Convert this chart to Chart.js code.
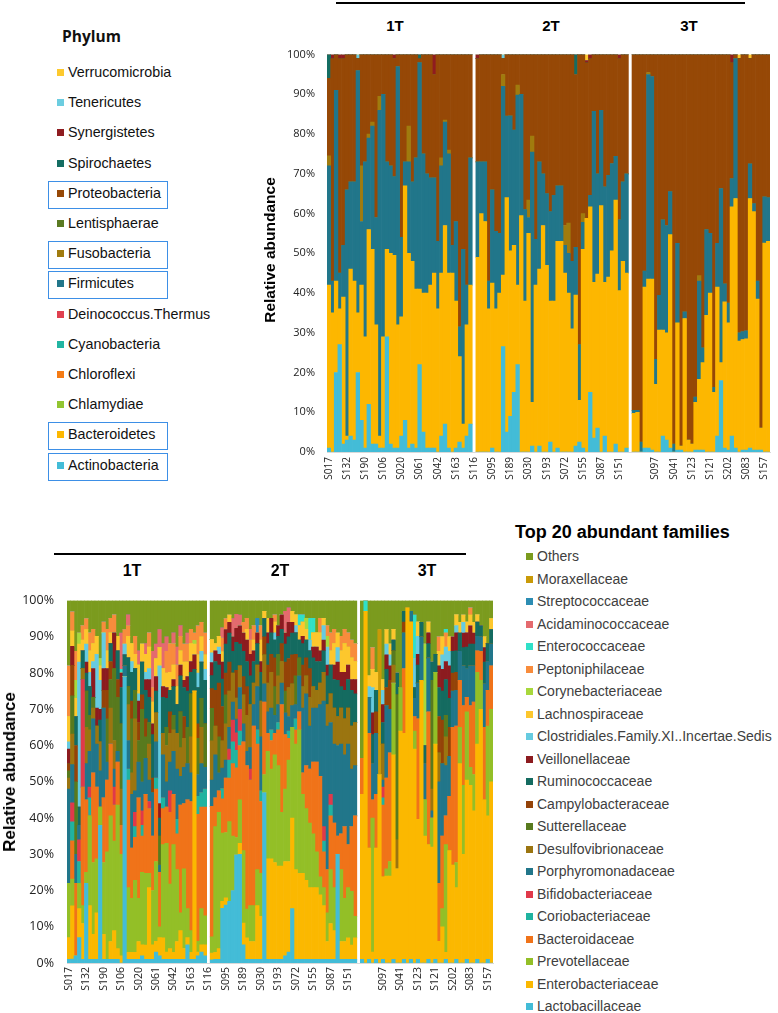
<!DOCTYPE html>
<html><head><meta charset="utf-8">
<script src="https://cdn.jsdelivr.net/npm/chart.js@4.4.0/dist/chart.umd.min.js"></script>
<style>
html,body{margin:0;padding:0;background:#fff;}
body{width:778px;height:1013px;position:relative;overflow:hidden;font-family:'Liberation Sans',Arial,sans-serif;}
canvas{position:absolute;}
.t{position:absolute;white-space:nowrap;}
.sq{position:absolute;width:7px;height:7px;}
.box{position:absolute;border:1.5px solid #3d8fe6;box-sizing:border-box;}
.rule{position:absolute;background:#000;height:2px;}
.grp{position:absolute;font-weight:bold;transform:translate(-50%,-50%);}
.ytitle{position:absolute;font-weight:bold;transform:translate(-50%,-50%) rotate(-90deg);white-space:nowrap;}
</style></head><body>
<canvas id="topChart" width="516" height="452" style="left:262px;top:36px"></canvas>
<canvas id="botChart" width="500" height="419" style="left:0px;top:580px"></canvas>
<div id="ui"></div>
<script>
// ---------- shared categories ----------
const groupNames = ['1T','2T','3T'];
const groupSizes = [40, 42, 38];
const tickNames = ['S017','S132','S190','S106','S020','S061','S042','S163','S116','S095','S189','S030','S193','S072','S155','S087','S151','','S097','S041','S123','S121','S202','S083','S157'];
const tickStep = 5;
const yTicks = [0,10,20,30,40,50,60,70,80,90,100];

// ---------- phylum chart (stack order bottom -> top) ----------
const phylumNames = ['Actinobacteria','Bacteroidetes','Chlamydiae','Chloroflexi','Cyanobacteria','Deinococcus.Thermus','Firmicutes','Fusobacteria','Lentisphaerae','Proteobacteria','Spirochaetes','Synergistetes','Tenericutes','Verrucomicrobia'];
const phylumColors = ['#43bcd7','#fdb700','#92c531','#f57b14','#22b5a2','#e0404f','#21768a','#a07b0e','#5a7a22','#964806','#146d62','#8f1c20','#6ccde0','#fdc92e'];
const phylumBoxed = ['Proteobacteria','Fusobacteria','Firmicutes','Bacteroidetes','Actinobacteria'];

const actinobacteria = [
 [1,0,20,27,2,3,4,3,20,8, 1,12,2,2,1,1,29,2,1,1, 4,8,1,2,1,22,5,1,1,1, 0,4,7,1,0,1,2.5,1,4,7],
 [0,0,0,0,1,0,0,26.5,5,9, 15,22,0,0,0,1.5,0,1.5,0,0, 2.5,0,1,0,0,0,0,1.5,2.5,1, 0,15,3.5,6,0,4,0,0,2,0, 0,1],
 [0,0,0,1,1,0.5,0,0,4,3, 1,0,0.5,0.5,0,0,0,0.5,0.5,0.5, 0,0,0,4,18,1,0.5,4,1,0, 0.5,0.5,1,0.5,0.5,0.5,0,0]];
const bacteroidetes = [
 [41,35,23,9,37,1,42,40,15,34, 28,44,49,30,3,28,22,48,49,31, 30,59,49,46,40,19,35,39,41,44, 36,41,50,44,45,37,21.5,6,28,35],
 [49,60,58,36,41.5,36,40,18,59,41.6, 37,20,59.5,38,55,11,42,44.5,57,47, 35.5,38,52,53,45,40,31,38,10.5,50, 57.6,46.7,39.2,38.8,62,38.7,44,50.6,61.4,40.6, 48,44],
 [9.7,10,0,40.5,42.5,43,17,30.7,26.7,27, 53.7,0,32,1,33.6,3,2,12,17.8,22, 34.4,40,15,37.5,4.5,36.8,32,57.7,62.8,27.9, 27.8,28,62.8,60,38,5.5,52.6,53]];
const firmicutes = [
 [30,8,48,9,13,62,22,25,61,16, 44,23,31,27,82,61,22,22,20,65, 20,6,23,20,33,57,35,30,27,24, 17,27,26,30,7,20,7.5,44,10,32],
 [24,13,15,7,23.5,19.5,15,47.5,20.5,34, 29,47.8,30.5,23,4,63,11.5,27,13,18, 22.5,26.6,14,14,7,10,17,12,14,6.8, 0,2.9,43,25.2,24,24,25.6,22,11,17.8, 20,25],
 [0.8,0.5,2.5,4,51.5,51,6.3,8.7,27.7,27, 10.8,2,20,0,1.7,0,0,1.3,24.7,3.7, 21.6,15,1.3,11,43.8,4.5,5,7.1,35.2,2.1, 2,2,8.7,2,4.5,0,11.6,11]];
const fusobacteria = [
 [2.5,0,0,0,0,0,0,0,0,14, 0,1,1,0,3.5,0,0,0,0,0, 0,0,9,0,0,0,0,0,0,0, 0,2,0.5,1,0,0,0,0,0,0],
 [0,0,0,0,0,0,0,3,0,0, 0,2.5,0,0,4.4,4,0,0,0,0, 0,0,0,0,5,7.6,0,0,0,2.2, 0,0,0,0,0,0,0,0,0,0, 0,0],
 [0,0,0,0,0.5,0,0,0,0,0, 0,0,0,0,0,0,0,0,1.4,0, 0,0,0,0,0,0,0,0,0,0, 0,0,0,0,0,0,0,0]];
const proteobacteria = [
 [19.5,56,9,54,47,34,32,32,3,28, 27,20,17,41,10.5,10,27,28,30,3, 46,27,18,32,26,1,25,30,31,26, 47,26,16.5,24,48,42,68.5,49,58,26],
 [26,27,27,57,34,44.5,45,4,15.5,15.4, 19,7.7,10,39,36.6,20.5,46.5,27,30,35, 39.5,35.4,33,33,43,42.4,52,43.5,73,40, 38.4,34.4,14.3,30,14,33.3,30.4,27.4,25.6,40.6, 32,30],
 [89.5,89.5,97.5,54.5,4.5,5.5,76.7,60.6,41.6,43, 34.5,98,47.5,98.5,64.7,97,98,86.2,55.6,73.8, 44,45,83.7,47.5,33.7,57.7,62.5,29.2,1,69, 69.7,69.5,26.5,37.5,57,94,35.8,36]];
const spirochaetes = [
 [6,0,0,0,0,0,0,0,0,0, 0,0,0,0,0,0,0,0,0,0, 0,0,0,0,0,1,0,0,0,0, 0,0,0,0,0,0,0,0,0,0],
 [0,0,0,0,0,0,0,0,0,0, 0,0,0,0,0,0,0,0,0,0, 0,0,0,0,0,0,0,5,0,0, 0,0,0,0,0,0,0,0,0,0, 0,0],
 [0,0,0,0,0,0,0,0,0,0, 0,0,0,0,0,0,0,0,0,0, 0,0,0,0,0,0,0,0,0,0, 0,0,0,0,0,0,0,0]];
const synergistetes = [
 [0,1,0,1,1,0,0,0,0,0, 0,0,0,0,0,0,0,0,1,0, 0,0,0,0,0,0,0,0,0,5, 0,0,0,0,0,0,0,0,0,0],
 [1,0,0,0,0,0,0,0,0,0, 0,0,0,0,0,0,0,0,0,0, 0,0,0,0,0,0,0,0,0,0, 0.5,1,0,0,0,0,0,0,0,1, 0,0],
 [0,0,0,0,0,0,0,0,0,0, 0,0,0,0,0,0,0,0,0,0, 0,0,0,0,0,0,0,2,0,0, 0,0,0,0,0,0,0,0]];
const tenericutes = [
 [0,0,0,0,0,0,0,0,1,0, 0,0,0,0,0,0,0,0,0,0, 0,0,0,0,0,0,0,0,0,0, 0,0,0,0,0,0,0,0,0,0],
 [0,0,0,0,0,0,0,1,0,0, 0,0,0,0,0,0,0,0,0,0, 0,0,0,0,0,0,0,0,0,0, 0,0,0,0,0,0,0,0,0,0, 0,0],
 [0,0,0,0,0,0,0,0,0,0, 0,0,0,0,0,0,0,0,0,0, 0,0,0,0,0,0,0,0,0,0, 0,0,0,0,0,0,0,0]];
const verrucomicrobia = [
 [0,0,0,0,0,0,0,0,0,0, 0,0,0,0,0,0,0,0,0,0, 0,0,0,0,0,0,0,0,0,0, 0,0,0,0,0,0,0,0,0,0],
 [0,0,0,0,0,0,0,0,0,0, 0,0,0,0,0,0,0,0,0,0, 0,0,0,0,0,0,0,0,0,0, 1.5,0,0,0,0,0,0,0,0,0, 0,0],
 [0,0,0,0,0,0,0,0,0,0, 0,0,0,0,0,0,0,0,0,0, 0,0,0,0,0,0,0,0,0,1, 0,0,1,0,0,0,0,0]];

// ---------- family chart (stack order bottom -> top) ----------
const familyNames = ['Lactobacillaceae','Enterobacteriaceae','Prevotellaceae','Bacteroidaceae','Coriobacteriaceae','Bifidobacteriaceae','Porphyromonadaceae','Desulfovibrionaceae','Sutterellaceae','Campylobacteraceae','Ruminococcaceae','Veillonellaceae','Clostridiales.Family.XI..Incertae.Sedis','Lachnospiraceae','Corynebacteriaceae','Peptoniphilaceae','Enterococcaceae','Acidaminococcaceae','Streptococcaceae','Moraxellaceae','Others'];
const familyColors = ['#43bcd7','#fbb800','#93bf27','#f07319','#20b3a0','#e0394a','#21768a','#9b7510','#587a1e','#944308','#146b60','#8c1b1f','#66cbe0','#fdc72d','#a8d83c','#f88c3c','#30e0c8','#e46a6e','#2c8db3','#c99a08','#7b9b1e'];

const lactobacillaceae = [
 [1,1,2,7,1,22,1,1,1,38, 1,1,1,1,1,0,79,1,1,1, 1,2,1,1,1,3,2,1,1,1, 1,1,1,1,5,1,1,2,3,2],
 [1,1,1,16,16,17,20,31,30,5, 1,1,1,1,1,47,1,1,1,1, 1,2,3,15,1,1,1,1,1,1, 1,1,1,1,1,1,30,1,1,1, 1,1],
 [1,0,1,0,1,0,1,0,0,1, 0,0,1,0,1,0,1,0,0,1, 0,1,0,0,1,0,0,1,0,0, 1,0,0,1,0,0,1,0]];
const enterobacteriaceae = [
 [6,14,0,8,10,0,15,7,13,0, 7,0,5,8,3,2,0,2,2,2, 5,3,4,20,4,3,5,6,2,3, 2,5,8,3,2,2,74,1,2,3],
 [2,2,3,2,2,0,0,0,3,6, 6,5,5,15,12,0,28,28,27,26, 26,26,25,25,25,24,24,22,20,20, 20,18,15,5,10,8,0,5,5,6, 4,6],
 [46,97,31,3,31,52,23,24,24,57, 26,64,63,98,94,59,39,78,35,32, 32,60,6,10,2,31,27,20,55,30, 50,49,42,60,70,45,40,50]];
const prevotellaceae = [
 [15,7,0,7,5,3,25,20,15,5, 20,30,35,25,40,28,0,18,15,20, 12,20,20,4,15,22,3,26,30,18, 30,20,5,22,8,6,0,3,10,8],
 [5,35,38,20,18,22,15,5,12,20, 8,10,10,10,12,5,30,25,30,28, 15,20,28,25,35,40,22,20,18,15, 10,5,5,8,15,12,0,20,12,14, 15,6],
 [0,0,0,37,0,0,0,2,4,20, 0,12,0,0,0,5,0,0,10,0, 8,20,0,5,30,0,0,7,10,19, 19,5,10,20,8,0,25,20]];
const bacteroidaceae = [
 [0,10,20,0,33,20,0,25,20,0, 18,20,20,10,12,8,0,30,14,12, 28,10,22,18,15,20,15,10,10,20, 14,10,30,18,30,36,0,35,28,30],
 [40,8,6,10,15,12,20,20,15,30, 40,35,50,35,20,20,5,8,6,10, 30,15,6,0,4,5,6,12,15,20, 25,28,10,12,15,18,5,10,20,12, 18,28],
 [10,0,32,5,15,0,20,25,30,0, 0,0,18,0,0,4,28,0,0,37, 0,0,16,20,8,15,38,38,13,22, 4,17,20,6,8,20,10,12]];
const coriobacteriaceae = [
 [0,5,0,6,0,0,5,0,0,0, 0,0,0,0,0,0,0,3,0,3, 0,3,0,0,0,3,0,3,0,0, 0,4,0,0,0,0,0,5,4,5],
 [0,0,0,3,0,5,6,5,4,0, 0,0,0,4,3,0,0,3,0,2, 0,0,2,0,3,0,0,0,0,0, 0,0,3,0,3,0,0,0,0,0, 0,0],
 [0,0,0,0,0,0,2,0,0,0, 0,0,0,0,0,0,0,0,0,0, 0,0,0,0,0,0,0,0,0,0, 0,0,0,0,0,0,0,0]];
const bifidobacteriaceae = [
 [0,5,0,6,30,0,3,0,0,0, 0,0,0,5,0,0,0,0,0,4, 0,4,0,2,0,0,0,0,0,6, 0,0,0,0,0,0,0,0,0,0],
 [0,0,0,0,0,3,6,5,6,0, 0,3,0,0,0,0,0,0,0,0, 0,0,0,0,0,0,0,0,0,0, 0,0,4,0,3,0,0,0,0,0, 0,0],
 [0,0,0,0,0,0,3,0,0,0, 0,0,0,0,0,0,0,0,0,0, 0,0,0,0,0,0,0,0,0,0, 0,0,0,0,0,0,0,0]];
const porphyromonadaceae = [
 [26,10,8,4,0,10,10,15,12,10, 25,5,0,5,3,0,3,8,15,6, 10,8,10,6,12,10,2,12,7,8, 12,14,8,10,10,8,0,6,8,6],
 [8,12,5,6,5,6,5,4,6,5, 4,6,6,12,15,5,6,6,5,5, 6,6,4,6,4,10,18,20,12,15, 15,20,35,40,20,22,25,25,20,28, 16,14],
 [0,0,10,10,17,0,2,20,12,0, 0,0,10,0,3,5,10,12,10,15, 2,0,28,20,14,11,10,10,8,11, 8,11,10,4,4,12,8,6]];
const desulfovibrionaceae = [
 [3,8,0,0,3,10,6,3,5,8, 0,0,10,8,0,10,0,10,6,20, 0,0,0,10,0,8,0,6,10,8, 6,10,8,8,0,10,0,0,10,0],
 [12,8,0,8,10,10,8,6,6,8, 10,12,6,6,10,8,8,10,0,8, 6,0,8,6,0,0,6,5,8,6, 5,6,8,6,8,10,8,10,10,10, 12,12],
 [0,0,0,0,0,0,10,0,0,5, 8,0,0,0,0,0,0,0,0,0, 6,0,8,0,8,0,0,0,0,0, 0,0,0,0,0,0,0,0]];
const sutterellaceae = [
 [2,10,20,0,0,10,4,3,0,0, 0,12,8,20,15,18,0,5,15,8, 6,20,6,6,0,0,8,0,5,0, 4,0,10,0,10,12,0,10,8,12],
 [10,0,10,0,8,0,0,0,0,0, 0,0,0,0,0,0,0,0,8,6, 0,6,0,0,8,5,0,0,0,0, 0,0,0,0,0,0,0,0,0,0, 0,0],
 [0,0,0,0,0,0,0,0,0,4, 40,0,0,0,0,0,0,0,0,0, 30,0,0,0,6,0,0,0,0,0, 0,0,0,0,0,0,0,0]];
const campylobacteraceae = [
 [2,8,10,0,0,0,0,0,0,0, 5,8,5,0,5,0,0,0,5,0, 5,4,5,0,4,0,0,0,0,6, 0,0,0,6,0,0,0,4,0,0],
 [6,10,15,10,6,8,0,8,0,5, 8,0,0,0,0,5,5,5,8,0, 5,8,8,8,6,0,6,5,8,0, 0,0,0,0,0,0,0,0,0,0, 0,0],
 [0,0,0,0,6,0,0,5,8,0, 0,0,3,0,0,0,0,0,0,0, 0,0,10,12,0,8,5,5,0,0, 0,0,0,0,0,0,0,0]];
const ruminococcaceae = [
 [0,0,8,5,5,5,8,0,0,6, 0,0,5,0,8,10,3,8,8,6, 0,9,8,7,12,6,5,10,8,6, 8,8,10,8,10,6,6,10,10,12],
 [4,8,5,8,8,8,6,8,6,7, 7,8,6,6,8,5,6,6,5,5, 4,5,6,6,6,5,6,5,5,8, 8,6,6,8,8,8,10,6,8,8, 10,8],
 [0,0,0,8,6,0,6,5,0,3, 6,0,3,0,0,3,5,4,5,4, 5,5,8,8,10,8,6,6,5,5, 6,6,6,4,3,6,5,4]];
const veillonellaceae = [
 [4,5,0,0,0,3,0,8,5,3, 6,6,0,10,0,4,0,0,0,0, 6,0,3,5,3,4,4,3,3,0, 2,0,3,2,4,3,4,0,0,0],
 [4,3,3,5,4,3,4,4,5,5, 6,6,3,3,3,0,3,4,0,3, 4,3,4,3,0,0,2,0,0,3, 4,3,3,3,0,4,5,4,5,4, 3,4],
 [0,0,0,6,0,0,5,4,4,0, 0,0,0,0,0,0,3,0,0,3, 0,0,6,6,5,9,4,5,0,4, 4,5,3,0,0,4,0,0]];
const clostridialesXI = [
 [2,0,0,40,0,5,4,2,15,8, 10,0,0,0,0,0,3,0,3,0, 2,0,2,3,0,0,38,0,0,0, 0,0,0,0,0,0,0,4,3,3],
 [3,0,2,0,0,0,0,0,0,0, 0,0,0,0,0,0,0,0,2,0, 0,0,0,0,2,0,0,0,3,0, 0,0,4,5,0,0,4,0,0,0, 0,0],
 [0,0,3,7,0,0,4,3,3,0, 0,0,0,0,0,8,5,0,0,0, 0,0,0,4,4,4,0,2,0,3, 0,0,0,0,0,0,0,0]];
const lachnospiraceae = [
 [7,4,5,5,3,4,6,5,5,4, 0,5,3,0,4,0,0,6,5,4, 8,5,5,6,6,5,5,5,4,5, 4,5,4,5,4,5,3,5,4,4],
 [4,2,3,3,0,2,0,0,0,0, 3,0,3,0,6,2,4,0,3,0, 0,0,0,3,3,4,4,3,0,4, 4,5,2,0,4,6,4,6,8,5, 6,5],
 [0,0,3,5,5,0,3,4,3,3, 0,0,0,0,0,0,4,0,0,3, 0,0,4,5,0,4,0,3,3,2, 3,3,3,2,0,3,0,3]];
const corynebacteriaceae = [
 [0,0,5,3,0,0,0,0,0,2, 0,0,0,0,0,0,0,0,0,0, 0,0,0,0,0,0,0,0,0,0, 0,0,0,0,0,0,1,0,0,0],
 [0,0,0,0,0,0,0,0,0,0, 0,0,0,0,0,0,0,0,0,0, 0,0,0,0,0,0,0,3,0,0, 0,0,0,3,0,0,0,0,0,0, 0,0],
 [0,0,0,0,0,0,0,0,0,0, 0,0,0,0,0,0,0,0,28,0, 0,0,0,0,0,0,0,0,0,0, 0,0,0,0,0,0,0,0]];
const peptoniphilaceae = [
 [14,5,8,0,4,3,5,4,0,0, 3,6,4,5,0,0,4,3,0,5, 0,0,0,4,4,0,0,0,6,8, 6,6,4,5,5,4,2,8,4,6],
 [0,0,0,4,3,0,0,0,0,3, 3,4,4,0,4,0,0,0,2,0, 0,0,0,0,0,0,0,0,0,0, 0,4,0,3,5,4,0,4,4,4, 5,5],
 [0,0,0,6,0,0,0,0,0,0, 0,0,0,0,0,0,0,0,0,0, 0,0,4,0,4,0,0,0,0,0, 0,2,0,0,0,0,0,0]];
const enterococcaceae = [
 [0,0,0,0,0,0,0,0,0,0, 0,0,0,0,0,1,0,0,0,0, 0,0,0,0,0,0,0,0,0,0, 0,0,0,0,0,0,0,0,0,0],
 [0,0,0,0,0,0,0,0,0,0, 0,0,0,0,0,0,0,0,0,0, 0,0,0,0,0,3,2,0,6,4, 0,0,0,0,0,0,0,0,0,0, 0,0],
 [0,3,0,0,0,0,0,0,0,0, 0,0,0,0,0,12,0,0,0,0, 0,0,0,0,1,0,0,0,0,0, 0,0,0,0,0,0,0,0]];
const acidaminococcaceae = [
 [0,0,0,0,0,0,0,0,0,0, 0,0,0,0,0,10,0,3,0,0, 4,0,3,0,10,4,5,7,4,0, 3,5,3,0,3,0,0,0,0,0],
 [0,0,0,3,0,0,5,4,3,0, 0,3,0,0,0,0,0,0,0,0, 0,6,4,0,0,0,0,0,0,0, 0,0,0,0,0,0,0,0,0,0, 0,0],
 [0,0,0,0,0,0,0,0,0,0, 0,0,0,0,0,0,0,0,0,0, 0,0,0,0,0,0,0,0,0,0, 0,0,0,0,0,0,0,0]];
const streptococcaceae = [
 [0,0,0,0,0,0,0,0,0,0, 0,0,0,0,0,0,0,0,0,0, 0,0,0,0,0,0,0,0,0,0, 0,0,0,0,0,0,0,0,0,0],
 [0,0,0,0,0,0,0,0,0,0, 0,0,0,4,0,0,0,0,0,0, 0,0,0,0,0,0,0,0,0,0, 0,0,0,0,0,0,0,0,0,0, 0,0],
 [0,0,0,0,0,0,0,0,0,0, 0,0,0,0,0,0,0,0,0,0, 0,0,0,0,0,0,0,0,0,0, 0,0,0,0,0,0,0,0]];
const moraxellaceae = [
 [0,0,0,0,0,0,0,0,0,0, 0,0,0,0,0,0,0,0,0,0, 0,0,0,0,0,0,0,0,0,0, 0,0,0,0,0,0,0,0,0,0],
 [0,0,0,0,0,0,0,0,0,0, 0,0,0,0,0,0,0,0,0,0, 0,0,0,0,0,0,0,0,0,0, 0,0,0,0,0,0,0,0,0,0, 0,0],
 [0,0,0,0,0,40,0,0,0,0, 0,0,0,0,0,0,0,0,0,0, 0,0,0,0,0,0,0,0,0,0, 0,0,0,0,0,0,0,0]];
const others = [
 [18,3,14,9,7,5,9,8,10,16, 6,8,5,4,10,9,8,4,12,10, 14,12,12,9,14,12,8,12,10,12, 9,13,7,12,9,8,9,7,6,9],
 [12,12,10,8,5,4,5,4,4,6, 5,8,7,5,7,3,5,5,4,7, 4,3,2,3,4,4,4,5,5,5, 9,5,5,7,9,8,9,10,8,9, 11,12],
 [44,0,21,13,20,8,22,8,12,8, 20,24,3,2,3,4,6,6,12,6, 17,15,10,10,8,10,10,4,6,4, 6,2,6,4,7,10,12,5]];

// ---------- build ----------
const phylumSeries = {Actinobacteria:actinobacteria, Bacteroidetes:bacteroidetes, Firmicutes:firmicutes, Fusobacteria:fusobacteria, Proteobacteria:proteobacteria, Spirochaetes:spirochaetes, Synergistetes:synergistetes, Tenericutes:tenericutes, Verrucomicrobia:verrucomicrobia};
const familySeries = [lactobacillaceae,enterobacteriaceae,prevotellaceae,bacteroidaceae,coriobacteriaceae,bifidobacteriaceae,porphyromonadaceae,desulfovibrionaceae,sutterellaceae,campylobacteraceae,ruminococcaceae,veillonellaceae,clostridialesXI,lachnospiraceae,corynebacteriaceae,peptoniphilaceae,enterococcaceae,acidaminococcaceae,streptococcaceae,moraxellaceae,others];

function withGaps(panels, name){
  const out = [];
  panels.forEach((p,g)=>{
    if (p.length !== groupSizes[g]) throw new Error(name+' panel '+g+' has '+p.length);
    if (g>0) out.push(null);
    p.forEach(v=>out.push(v));
  });
  return out;
}
const nCats = groupSizes.reduce((a,b)=>a+b,0) + groupSizes.length - 1;
const catLabels = Array.from({length:nCats},(_,i)=> i%tickStep===0 ? (tickNames[i/tickStep]||'') : '');

function buildDatasets(list){
  const filled = list.map(s=>withGaps(s.panels, s.name));
  const totals = catLabels.map((_,i)=>filled.reduce((a,d)=>a+(d[i]||0),0));
  return list.map((s,j)=>({
    label:s.name, backgroundColor:s.color, borderWidth:0,
    barPercentage:1, categoryPercentage:1,
    data: filled[j].map((v,i)=> v==null||totals[i]===0 ? null : v/totals[i]*100)
  }));
}
const phylumList = phylumNames.map((n,i)=>({name:n,color:phylumColors[i],panels:phylumSeries[n]})).filter(s=>s.panels);
const familyList = familyNames.map((n,i)=>({name:n,color:familyColors[i],panels:familySeries[i]}));

Chart.defaults.font.family = "'Open Sans', sans-serif";
function makeOptions(c){
  return {
    responsive:false, animation:false, devicePixelRatio:1,
    layout:{padding:{top:c.padTop,right:c.padRight,left:0,bottom:0}},
    plugins:{legend:{display:false}, tooltip:{enabled:false}},
    scales:{
      x:{stacked:true, grid:{display:false,drawTicks:false}, border:{display:true,color:'#d9d9d9'},
         ticks:{autoSkip:false,maxRotation:90,minRotation:90,padding:c.xPad,font:{size:c.xFont},color:'#222'},
         afterFit(s){ s.height=c.xHeight; s.paddingLeft=0; s.paddingRight=0; }},
      y:{stacked:true, min:0, max:100, grid:{display:false,drawTicks:false}, border:{display:false},
         afterBuildTicks(s){ s.ticks = yTicks.map(v=>({value:v})); },
         ticks:{padding:c.yPad,font:{size:c.yFont},color:'#222',callback:v=>v+'%'},
         afterFit(s){ s.width=c.yWidth; }}
    }
  };
}
new Chart(document.getElementById('topChart'),{type:'bar',
  data:{labels:catLabels, datasets:buildDatasets(phylumList)},
  options:makeOptions({padTop:11,padRight:8,xPad:5,xFont:10,xHeight:36,yPad:12,yFont:11,yWidth:65})});
new Chart(document.getElementById('botChart'),{type:'bar',
  data:{labels:catLabels, datasets:buildDatasets(familyList)},
  options:makeOptions({padTop:11.5,padRight:7,xPad:4,xFont:10.5,xHeight:36,yPad:13,yFont:12.5,yWidth:67})});

// ---------- text overlays ----------
const ui = document.getElementById('ui');
function add(cls, css, text){ const d=document.createElement('div'); d.className=cls; Object.assign(d.style,css); if(text!=null) d.textContent=text; ui.appendChild(d); return d; }
add('rule',{left:'336px',top:'2px',width:'409px'});
[395,551,689].forEach((x,i)=>add('grp',{left:x+'px',top:'25px',fontSize:'15px'},groupNames[i]));
add('ytitle',{left:'270px',top:'250px',fontSize:'15.5px'},'Relative abundance');
add('rule',{left:'54px',top:'553px',width:'412px'});
[132,280,427].forEach((x,i)=>add('grp',{left:x+'px',top:'571px',fontSize:'16px'},groupNames[i]));
add('ytitle',{left:'10px',top:'772px',fontSize:'17px'},'Relative abundance');
// phylum legend
add('t',{left:'62px',top:'25px',fontSize:'15.5px',fontWeight:'bold',fontFamily:"'Open Sans',sans-serif",color:'#111'},'Phylum');
phylumNames.slice().reverse().forEach((n,i)=>{
  const cy = 72.5 + 30.2*i;
  const col = phylumColors[phylumNames.indexOf(n)];
  add('sq',{left:'57px',top:(cy-3.5)+'px',background:col});
  add('t',{left:'68px',top:(cy-8.5)+'px',fontSize:'14.3px',lineHeight:'17px',color:'#111'},n);
  if (phylumBoxed.includes(n)) add('box',{left:'48px',top:(cy-12.5)+'px',width:'120px',height:'28px'});
});
// family legend
add('t',{left:'515px',top:'521px',fontSize:'18px',lineHeight:'22px',fontWeight:'bold',color:'#000'},'Top 20 abundant families');
familyNames.slice().reverse().forEach((n,i)=>{
  const cy = 556.7 + 22.5*i;
  const col = familyColors[familyNames.indexOf(n)];
  add('sq',{left:'526px',top:(cy-3.5)+'px',background:col});
  add('t',{left:'537px',top:(cy-8.5)+'px',fontSize:'14px',lineHeight:'17px',color:'#404040'},n);
});
</script>
</body></html>
